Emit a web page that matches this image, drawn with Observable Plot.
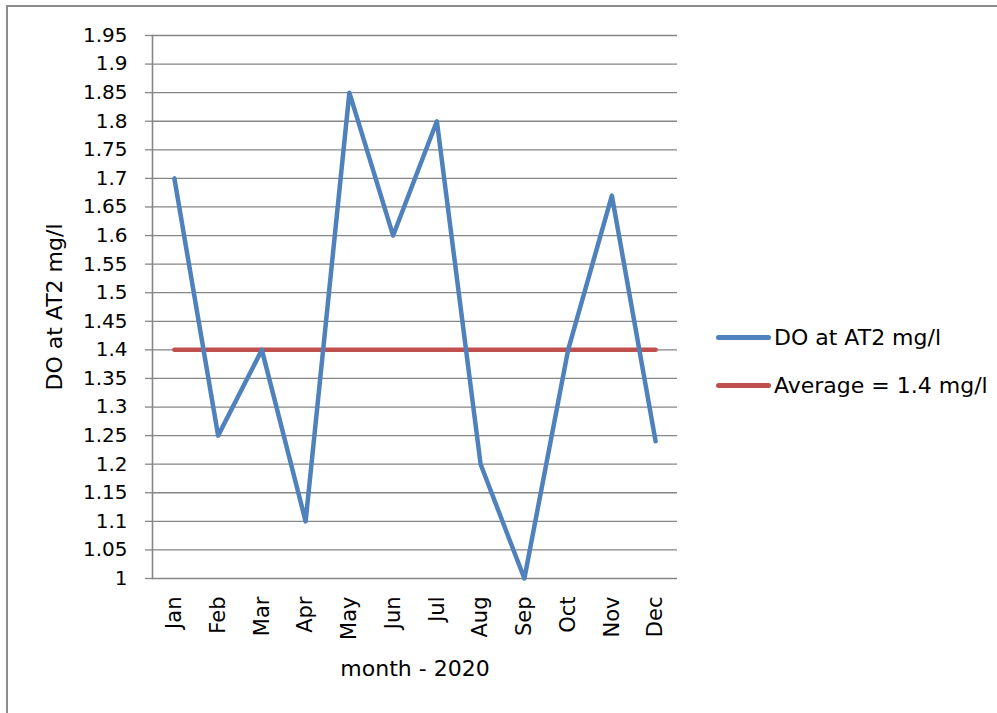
<!DOCTYPE html>
<html>
<head>
<meta charset="utf-8">
<script src="https://cdn.jsdelivr.net/npm/d3@7"></script>
<script src="https://cdn.jsdelivr.net/npm/@observablehq/plot@0.6"></script>
<style>
  html, body { margin: 0; padding: 0; background: #fff; overflow: hidden; }
  #wrap { position: relative; width: 997px; height: 713px; }
  #border { position: absolute; left: 6px; top: 5px; width: 1100px; height: 800px;
            border-left: 2px solid #8c8c8c; border-top: 2px solid #8c8c8c; pointer-events: none; }
  #chart { position: absolute; left: 0; top: 0; }
  #legend { position: absolute; left: 716px; top: 321px; font-family: "DejaVu Sans", sans-serif;
            font-size: 22px; color: #000; }
  .item { display: flex; align-items: center; height: 32px; margin-bottom: 16px; }
  .sw { width: 55px; height: 5px; border-radius: 3px; margin-right: 3px; }
</style>
</head>
<body>
<div id="wrap">
  <div id="chart"></div>
  <div id="border"></div>
  <div id="legend"></div>
</div>
<script>
const months = ["Jan","Feb","Mar","Apr","May","Jun","Jul","Aug","Sep","Oct","Nov","Dec"];
const doValues = [1.7, 1.25, 1.4, 1.1, 1.85, 1.6, 1.8, 1.2, 1.0, 1.4, 1.67, 1.24];
const averageValue = 1.4;
const yTicks = [1, 1.05, 1.1, 1.15, 1.2, 1.25, 1.3, 1.35, 1.4, 1.45, 1.5, 1.55, 1.6, 1.65, 1.7, 1.75, 1.8, 1.85, 1.9, 1.95];
const seriesNames = ["DO at AT2 mg/l", "Average = 1.4 mg/l"];
const seriesColors = ["#4F81BD", "#C0504D"];
const xTitle = "month - 2020";
const yTitle = "DO at AT2 mg/l";

const doData = months.map((m, i) => ({month: m, value: doValues[i]}));
const avgData = months.map(m => ({month: m, value: averageValue}));

const chart = Plot.plot({
  width: 997,
  height: 713,
  marginLeft: 152,
  marginRight: 320,
  marginTop: 35,
  marginBottom: 135,
  style: {fontFamily: "DejaVu Sans, sans-serif", fontSize: "20px", color: "#000", background: "transparent"},
  x: {type: "point", domain: months, padding: 0.5, round: false},
  y: {domain: [1, 1.95]},
  marks: [
    Plot.gridY(yTicks, {stroke: "#868686", strokeOpacity: 1, strokeWidth: 1.3}),
    Plot.frame({anchor: "left", stroke: "#868686", strokeWidth: 1.6}),
    Plot.axisY(yTicks, {
      tickSize: 7, tickPadding: 18, stroke: "#868686", strokeWidth: 1.3,
      tickFormat: d => String(+d.toFixed(2)), fontSize: 20, label: null
    }),
    Plot.axisY({
      ticks: [], tickSize: 0, fontSize: 22,
      label: yTitle, labelAnchor: "center", labelOffset: 106, labelArrow: "none"
    }),
    Plot.axisX({
      tickSize: 0, tickPadding: 18, tickRotate: -90, fontSize: 21, label: null
    }),
    Plot.axisX({
      ticks: [], tickSize: 0, fontSize: 22,
      label: xTitle, labelAnchor: "center", labelOffset: 97, labelArrow: "none"
    }),
    Plot.line(avgData, {x: "month", y: "value", stroke: seriesColors[1], strokeWidth: 4.5, strokeLinecap: "round"}),
    Plot.line(doData, {x: "month", y: "value", stroke: seriesColors[0], strokeWidth: 4.5, strokeLinecap: "round", strokeLinejoin: "round"})
  ]
});
document.getElementById("chart").appendChild(chart);

const legend = d3.select("#legend");
seriesNames.forEach((name, i) => {
  const item = legend.append("div").attr("class", "item");
  item.append("div").attr("class", "sw").style("background", seriesColors[i]);
  item.append("span").text(name);
});
</script>
</body>
</html>
